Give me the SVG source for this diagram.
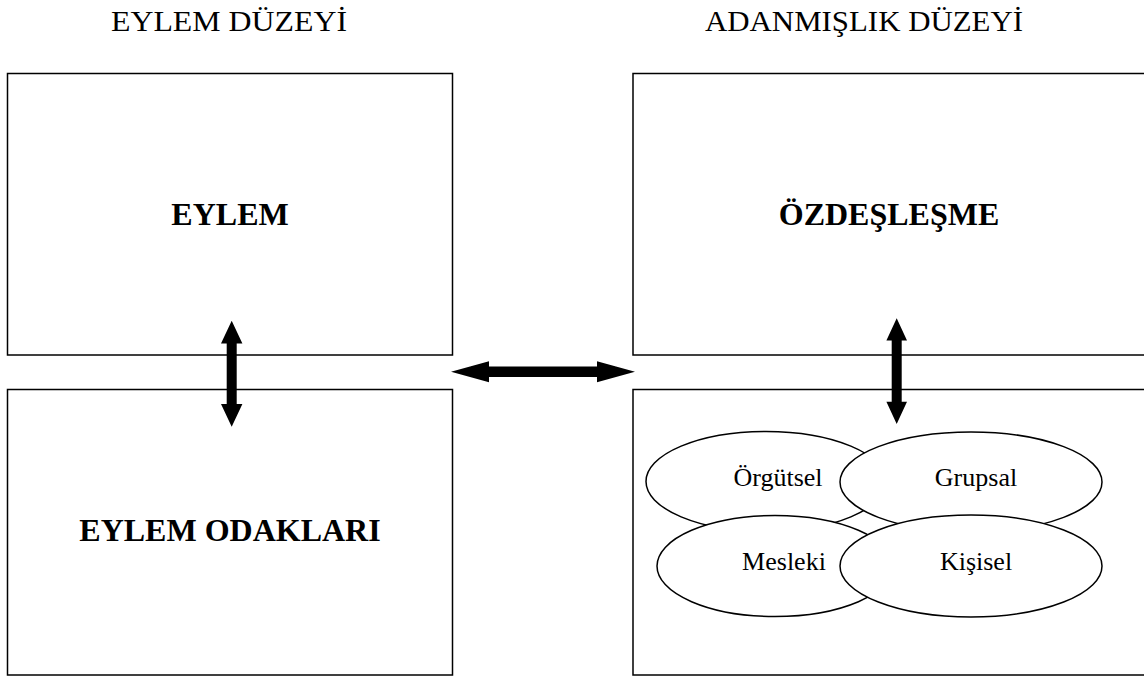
<svg xmlns="http://www.w3.org/2000/svg" width="1144" height="676" viewBox="0 0 1144 676">
  <style>
    .box { fill: #ffffff; stroke: #000000; stroke-width: 1.5; }
    .oval { fill: #ffffff; stroke: #000000; stroke-width: 1.5; }
    .head { font-family: "Liberation Serif", "Times New Roman", serif; font-size: 30px; fill: #000000; text-anchor: middle; }
    .title { font-family: "Liberation Serif", "Times New Roman", serif; font-size: 32px; font-weight: bold; fill: #000000; text-anchor: middle; }
    .item { font-family: "Liberation Serif", "Times New Roman", serif; font-size: 26px; fill: #000000; text-anchor: middle; }
    .arrow { fill: #000000; stroke: none; }
  </style>
  <rect width="1144" height="676" fill="#ffffff"/>

  <!-- column headings -->
  <g id="headings">
    <text class="head" x="229" y="31" textLength="236" lengthAdjust="spacingAndGlyphs">EYLEM DÜZEYİ</text>
    <text class="head" x="864" y="31" textLength="318" lengthAdjust="spacingAndGlyphs">ADANMIŞLIK DÜZEYİ</text>
  </g>

  <!-- action side -->
  <g id="eylem">
    <rect class="box" x="7.5" y="73.5" width="445" height="281.5"/>
    <text class="title" x="230" y="225">EYLEM</text>
  </g>
  <g id="eylem-odaklari">
    <rect class="box" x="7.5" y="389.5" width="445" height="285.5"/>
    <text class="title" x="230" y="541">EYLEM ODAKLARI</text>
  </g>

  <!-- commitment side -->
  <g id="ozdeslesme">
    <rect class="box" x="633" y="73.5" width="520" height="281.5"/>
    <text class="title" x="889" y="225">ÖZDEŞLEŞME</text>
  </g>
  <g id="adanmislik-odaklari">
    <rect class="box" x="633" y="389.5" width="520" height="285.5"/>
  </g>

  <!-- overlapping commitment foci -->
  <g id="orgutsel">
    <ellipse class="oval" cx="766" cy="481.5" rx="120" ry="50"/>
    <text class="item" x="778" y="486">Örgütsel</text>
  </g>
  <g id="grupsal">
    <ellipse class="oval" cx="971" cy="482" rx="131" ry="50"/>
    <text class="item" x="976" y="486">Grupsal</text>
  </g>
  <g id="mesleki">
    <ellipse class="oval" cx="775" cy="566" rx="118" ry="50.5"/>
    <text class="item" x="784" y="570">Mesleki</text>
  </g>
  <g id="kisisel">
    <ellipse class="oval" cx="971" cy="566" rx="131" ry="51"/>
    <text class="item" x="976" y="570">Kişisel</text>
  </g>

  <!-- double-headed connectors -->
  <g id="connectors">
    <polygon class="arrow" points="231.7,320.7 242.4,343.4 236.7,343.4 236.7,404 242.4,404 231.7,426.7 221,404 226.7,404 226.7,343.4 221,343.4"/>
    <polygon class="arrow" points="896.7,318.3 907,340.6 901.7,340.6 901.7,401.7 907,401.7 896.7,424 886.4,401.7 891.7,401.7 891.7,340.6 886.4,340.6"/>
    <polygon class="arrow" points="451,371.7 489,361.2 489,366.4 597,366.4 597,361.2 635,371.7 597,382.2 597,377 489,377 489,382.2"/>
  </g>
</svg>
